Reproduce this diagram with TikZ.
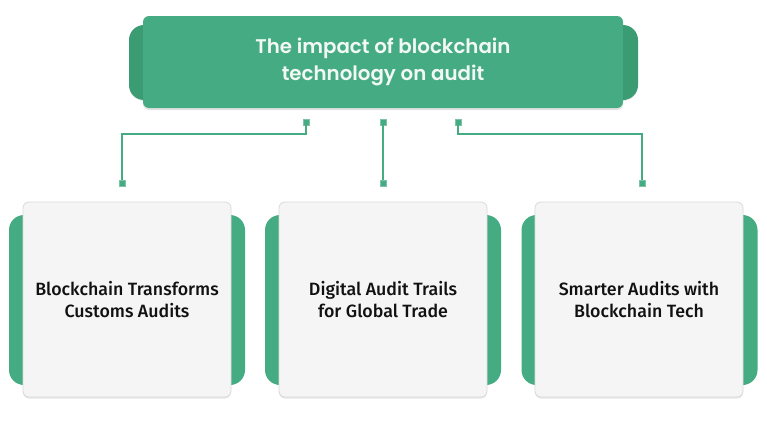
\documentclass[tikz,border=0pt]{standalone}
\usepackage{fontspec}
\setmainfont{Fira Sans}
\newfontfamily\topfont{Poppins}[UprightFont={* SemiBold}]
\newfontfamily\boxfont{Fira Sans}[UprightFont={* Medium}]
\usetikzlibrary{shadows}
\definecolor{gmain}{HTML}{45AB82}
\definecolor{gback}{HTML}{3B9B73}
\definecolor{boxfill}{HTML}{F5F5F5}
\definecolor{boxline}{HTML}{DADADA}
\definecolor{txt}{HTML}{111111}
\definecolor{toptxt}{HTML}{F2F8F5}
\tikzset{
  topmain/.style={rectangle, rounded corners=6pt, fill=gmain, minimum width=480pt, minimum height=92pt,
    drop shadow={shadow xshift=0pt, shadow yshift=-2pt, opacity=0.18, fill=black!60},
    text=toptxt, font=\topfont\fontsize{19.8}{27}\selectfont, align=center, inner sep=0pt},
  topback/.style={rectangle, rounded corners=15pt, fill=gback, minimum width=509pt, minimum height=75pt,
    drop shadow={shadow xshift=0pt, shadow yshift=-1pt, opacity=0.15, fill=black!60}},
  cardback/.style={rectangle, rounded corners=15pt, fill=gmain, minimum width=236pt, minimum height=170pt},
  card/.style={rectangle, rounded corners=6pt, fill=boxfill, draw=boxline, line width=0.8pt,
    minimum width=208pt, minimum height=195pt,
    drop shadow={shadow xshift=0pt, shadow yshift=-1.5pt, opacity=0.2, fill=black!50},
    text=txt, font=\boxfont\fontsize{17.8}{22}\selectfont, align=center, inner sep=0pt},
  sq/.style={rectangle, fill=gmain, draw=gmain!70!white, line width=0.5pt, minimum size=6pt, inner sep=0pt},
  conn/.style={draw=gmain, line width=1.5pt}
}
\begin{document}
\begin{tikzpicture}[x=1pt, y=-1pt]
\useasboundingbox (0,0) rectangle (767,423);
% top
\node[topback] (topb) at (383.5,62.5) {};
\node[topmain] (top) at (383,62) {The impact of blockchain\\technology on audit};
% cards
\node[cardback] (b1) at (127,300) {};
\node[cardback] (b2) at (383,300) {};
\node[cardback] (b3) at (639.5,300) {};
\node[card] (c1) at (127,299.5) {Blockchain Transforms\\Customs Audits};
\node[card] (c2) at (383,299.5) {Digital Audit Trails\\for Global Trade};
\node[card] (c3) at (639,299.5) {Smarter Audits with\\Blockchain Tech};
% connector squares
\node[sq] (t1) at (306,122) {};
\node[sq] (t2) at (383,122) {};
\node[sq] (t3) at (458,122) {};
\node[sq] (s1) at (122,183) {};
\node[sq] (s2) at (383,183) {};
\node[sq] (s3) at (642,183) {};
\coordinate (lvl) at (0,134);
% connectors
\draw[conn] (t1.south) -- (t1.south |- lvl) -| (s1.north);
\draw[conn] (t2.south) -- (s2.north);
\draw[conn] (t3.south) -- (t3.south |- lvl) -| (s3.north);
\end{tikzpicture}
\end{document}
